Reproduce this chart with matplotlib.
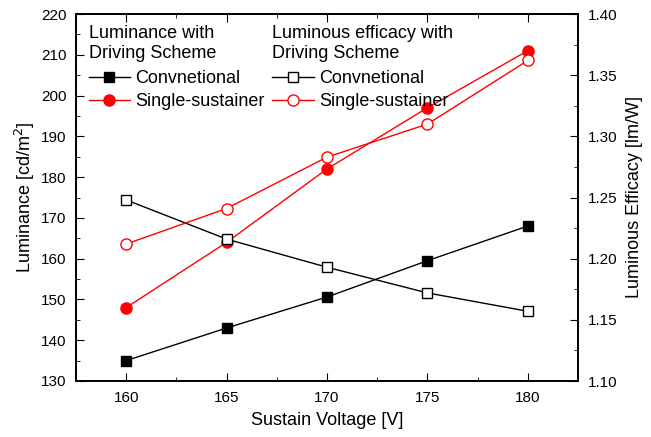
import matplotlib.pyplot as plt
from matplotlib.ticker import MultipleLocator

plt.rcParams['font.family'] = ['Liberation Sans', 'DejaVu Sans']
plt.rcParams['font.size'] = 12
plt.rcParams['axes.linewidth'] = 1.3

# Data
voltage = [160, 165, 170, 175, 180]
lum_conv = [135.0, 143.0, 150.6, 159.5, 168.0]
lum_single = [148.0, 164.0, 182.0, 197.0, 211.0]
eff_conv = [1.248, 1.216, 1.193, 1.172, 1.157]
eff_single = [1.212, 1.241, 1.283, 1.310, 1.362]

fig = plt.figure(figsize=(6.51, 4.37), dpi=100)
ax = fig.add_axes([76/651, 1-381/437, (578-76)/651, (381-14)/437])
ax2 = ax.twinx()

l1, = ax.plot(voltage, lum_conv, color='black', lw=1, marker='s', ms=7,
              label='Convnetional')
l2, = ax.plot(voltage, lum_single, color='red', lw=1, marker='o', ms=8,
              label='Single-sustainer')
l3, = ax2.plot(voltage, eff_conv, color='black', lw=1, marker='s', ms=7,
               mfc='white', label='Convnetional')
l4, = ax2.plot(voltage, eff_single, color='red', lw=1, marker='o', ms=8,
               mfc='white', label='Single-sustainer')

ax.set_xlim(157.5, 182.5)
ax.set_ylim(130, 220)
ax2.set_ylim(1.10, 1.40)
ax.xaxis.set_major_locator(MultipleLocator(5))
ax.xaxis.set_minor_locator(MultipleLocator(2.5))
ax.yaxis.set_major_locator(MultipleLocator(10))
ax.yaxis.set_minor_locator(MultipleLocator(5))
ax2.yaxis.set_major_locator(MultipleLocator(0.05))
ax2.yaxis.set_minor_locator(MultipleLocator(0.025))
ax2.yaxis.set_major_formatter(plt.FormatStrFormatter('%.2f'))

ax.tick_params(which='both', direction='in', top=True, labelsize=11, pad=7)
ax.tick_params(which='major', length=6)
ax.tick_params(which='minor', length=3)
ax2.tick_params(which='both', direction='in', labelsize=11, pad=7)
ax2.tick_params(which='major', length=6)
ax2.tick_params(which='minor', length=3)

ax.set_xlabel('Sustain Voltage [V]', fontsize=13, labelpad=5)
ax.set_ylabel('Luminance [cd/m$^2$]', fontsize=13, labelpad=3)
ax2.set_ylabel('Luminous Efficacy [lm/W]', fontsize=13, labelpad=6)

common = dict(loc='upper left', frameon=False, fontsize=13, title_fontsize=13,
              handlelength=2.3, handletextpad=0.3, borderaxespad=0.0,
              borderpad=0.0, labelspacing=0.35)
leg1 = ax2.legend(handles=[l1, l2], title='Luminance with\nDriving Scheme',
                  bbox_to_anchor=(0.025, 0.97), **common)
leg1._legend_box.align = 'left'
leg1._legend_box.sep = 6
ax2.add_artist(leg1)
leg2 = ax2.legend(handles=[l3, l4], title='Luminous efficacy with\nDriving Scheme',
                  bbox_to_anchor=(0.391, 0.97), **common)
leg2._legend_box.align = 'left'
leg2._legend_box.sep = 6

fig.savefig('out.png', dpi=100)
